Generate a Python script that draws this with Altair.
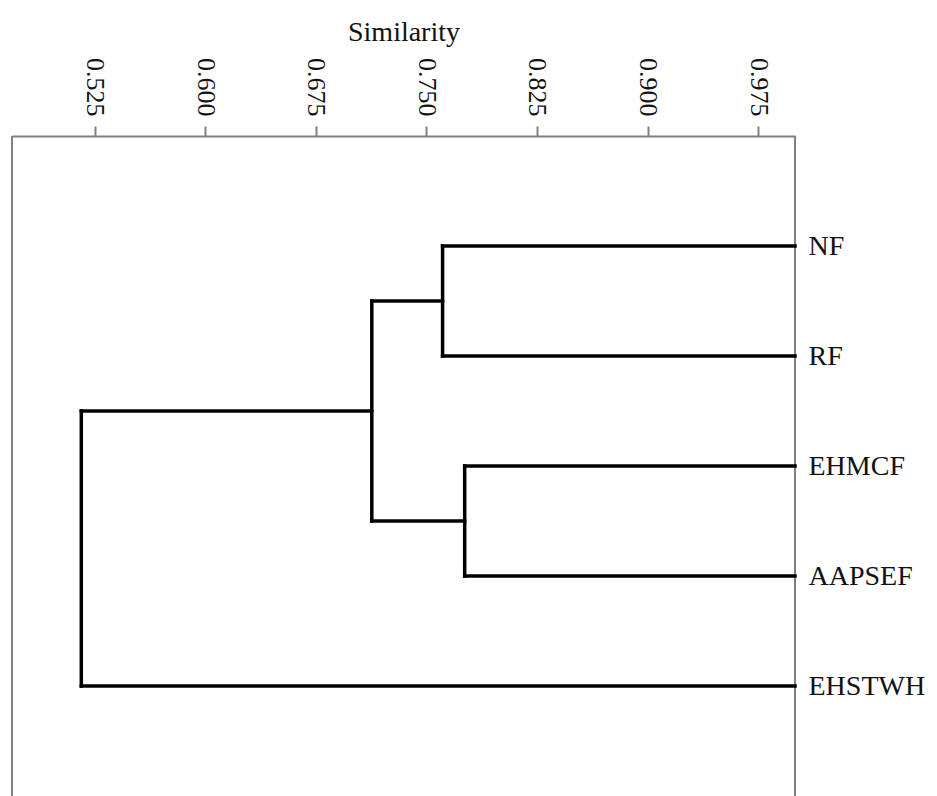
import json
import altair as alt
import pandas as pd

# ---- data ----
leaves = ["NF", "RF", "EHMCF", "AAPSEF", "EHSTWH"]
leaf_pos = [1, 2, 3, 4, 5]
leaf_sim = 1.0

merge_name = ["C1", "C2", "C3", "C4"]
merge_left = ["NF", "EHMCF", "C1", "C3"]
merge_right = ["RF", "AAPSEF", "C2", "EHSTWH"]
merge_sim = [0.761, 0.776, 0.713, 0.516]

tick_values = [0.525, 0.600, 0.675, 0.750, 0.825, 0.900, 0.975]
x_domain = [0.469, 1.0]
y_domain = [0, 6]

# ---- build dendrogram segments ----
node_x = {n: leaf_sim for n in leaves}
node_y = {n: p for n, p in zip(leaves, leaf_pos)}
rows = []
for name, l, r, s in zip(merge_name, merge_left, merge_right, merge_sim):
    for child in (l, r):
        rows.append({"x": node_x[child], "x2": s, "y": node_y[child], "y2": node_y[child]})
    rows.append({"x": s, "x2": s, "y": node_y[l], "y2": node_y[r]})
    node_x[name] = s
    node_y[name] = (node_y[l] + node_y[r]) / 2
seg = pd.DataFrame(rows)

frame = pd.DataFrame({"x": x_domain, "y": [y_domain[0]] * 2, "y2": [y_domain[1]] * 2})

GRAY = "#808080"
W, H = 783, 660

xscale = alt.Scale(domain=x_domain, nice=False, zero=False)
yscale = alt.Scale(domain=y_domain, nice=False, zero=False, reverse=True)

label_expr = json.dumps(leaves) + "[round(datum.value) - 1]"

frame_layer = alt.Chart(frame).mark_rule(color=GRAY, strokeWidth=2).encode(
    x=alt.X("x:Q", scale=xscale),
    y=alt.Y("y:Q", scale=yscale),
    y2="y2:Q",
)

dendro = alt.Chart(seg).mark_rule(color="black", strokeWidth=3.5, strokeCap="square").encode(
    x=alt.X(
        "x:Q",
        scale=xscale,
        axis=alt.Axis(
            orient="top",
            values=tick_values,
            format=".3f",
            labelAngle=90,
            labelAlign="right",
            labelBaseline="middle",
            labelFont="Liberation Serif",
            labelFontSize=26,
            labelColor="#111111",
            labelPadding=10,
            tickSize=10,
            tickWidth=2,
            tickColor=GRAY,
            domainColor=GRAY,
            domainWidth=2,
            grid=False,
            title="Similarity",
            titleFont="Liberation Serif",
            titleFontSize=28,
            titleFontWeight="normal",
            titleColor="#111111",
            titlePadding=11,
        ),
    ),
    x2="x2:Q",
    y=alt.Y(
        "y:Q",
        scale=yscale,
        axis=alt.Axis(
            orient="right",
            values=leaf_pos,
            labelExpr=label_expr,
            labelFont="Liberation Serif",
            labelFontSize=28,
            labelColor="#111111",
            labelPadding=13,
            labelAlign="left",
            labelBaseline="middle",
            ticks=False,
            domain=False,
            grid=False,
            title=None,
        ),
    ),
    y2="y2:Q",
)

chart = (
    alt.layer(frame_layer, dendro)
    .properties(
        width=W,
        height=H,
        autosize=alt.AutoSizeParams(type="none"),
        padding={"left": 12, "top": 136, "right": 142, "bottom": 0},
        background="white",
    )
    .configure_view(stroke=None)
)

chart.save("out.html", embed_options={"renderer": "svg", "actions": False})
